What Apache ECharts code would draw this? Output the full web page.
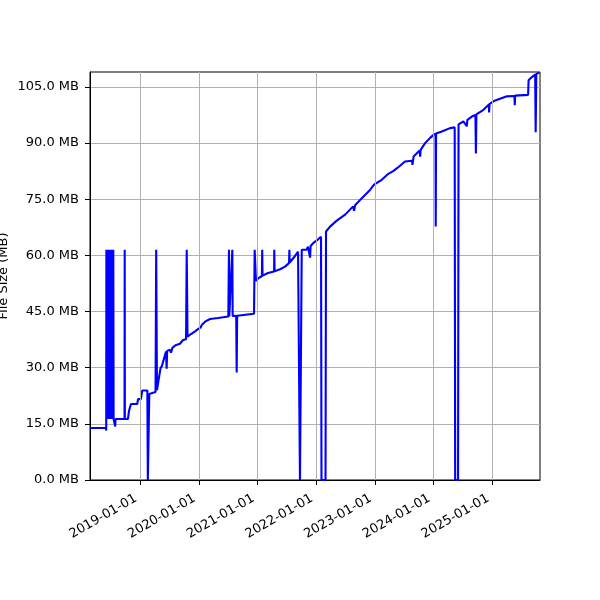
<!DOCTYPE html>
<html>
<head>
<meta charset="utf-8">
<script src="https://cdn.jsdelivr.net/npm/echarts@6/dist/echarts.min.js"></script>
<style>html,body{margin:0;padding:0;background:#fff}#c{width:600px;height:600px}</style>
</head>
<body>
<div id="c"></div>
<script>
const dates = [
'2018-02-22','2018-06-01','2018-06-03',
'2018-06-04','2018-06-06','2018-06-08','2018-06-10','2018-06-12','2018-06-15','2018-06-17','2018-06-20','2018-06-22','2018-06-25',
'2018-06-27','2018-06-30','2018-07-02','2018-07-05','2018-07-07','2018-07-10','2018-07-12','2018-07-15','2018-07-17','2018-07-19',
'2018-07-29','2018-07-31','2018-09-25','2018-09-26','2018-09-27','2018-10-16','2018-10-23','2018-11-04',
'2018-12-13','2018-12-18','2019-01-05','2019-01-13','2019-02-14','2019-02-17','2019-02-26','2019-04-06',
'2019-04-10','2019-04-15','2019-04-24','2019-05-07','2019-05-16','2019-05-29','2019-06-10','2019-06-14',
'2019-06-17','2019-07-05','2019-07-11','2019-07-20','2019-07-30','2019-08-08','2019-09-05','2019-09-24',
'2019-10-13','2019-10-17','2019-10-22','2019-11-13','2019-12-08','2019-12-26','2020-01-12','2020-01-20',
'2020-02-08','2020-03-10','2020-04-29','2020-07-02','2020-07-06','2020-07-08','2020-07-27','2020-07-29',
'2020-08-20','2020-08-23','2020-08-26','2020-12-09','2020-12-13','2020-12-21','2021-01-09','2021-01-27',
'2021-01-29','2021-01-31','2021-03-06','2021-04-13','2021-04-14','2021-04-16','2021-05-20','2021-06-20',
'2021-07-15','2021-07-17','2021-07-19','2021-08-15','2021-09-09','2021-09-18','2021-09-21','2021-09-28',
'2021-10-02','2021-11-01','2021-11-10','2021-11-23','2021-11-26','2021-12-18','2022-01-12','2022-01-30',
'2022-02-02','2022-02-27','2022-03-02','2022-03-27','2022-05-08','2022-06-29','2022-08-18','2022-08-24',
'2022-08-30','2022-10-11','2022-12-01','2022-12-26','2023-02-12','2023-03-25','2023-04-24','2023-05-18',
'2023-07-07','2023-08-20','2023-08-22','2023-08-29','2023-10-06','2023-10-09','2023-10-12','2023-11-09',
'2023-12-10','2023-12-31','2024-01-13','2024-01-14','2024-01-16','2024-02-21','2024-04-12','2024-05-11',
'2024-05-14','2024-06-01','2024-06-04','2024-07-04','2024-07-25','2024-07-29','2024-08-26','2024-09-17',
'2024-09-20','2024-09-23','2024-11-06','2024-12-10','2024-12-11','2024-12-14','2025-01-18','2025-04-01',
'2025-05-18','2025-05-20','2025-05-22','2025-08-11','2025-08-14','2025-08-30','2025-09-24','2025-09-27',
'2025-10-01','2025-10-19'
];
const sizes = [
13.9,13.9,13.2,
61.5,16.3,61.5,16.3,61.5,16.3,61.5,16.5,61.5,16.3,
61.5,16.3,61.5,16.3,61.5,16.3,61.5,16.3,61.5,16.3,
14.3,16.3,16.3,61.5,16.3,16.3,18.5,20.3,
20.3,21.6,21.6,23.9,23.9,0,23.0,23.5,
61.5,24.0,26.5,29.9,30.5,32.5,34.3,29.7,
34.5,34.8,34.0,35.3,35.0,36.0,36.4,37.4,
37.6,61.5,38.3,39.0,39.7,40.3,40.8,41.5,
42.3,43.0,43.3,43.7,61.5,43.7,61.5,43.8,
43.9,28.7,43.9,44.4,61.5,53.2,54.0,54.5,
61.5,54.6,55.3,55.7,61.5,55.8,56.3,57.0,
58.0,61.5,58.1,59.5,61.0,61.5,0,0,
61.5,61.5,62.3,59.4,62.5,63.5,64.3,65.0,
0,0,66.4,67.7,69.3,70.9,73.1,71.9,
73.4,75.3,77.5,78.9,80.2,81.8,82.5,83.3,
85.1,85.3,84.2,86.4,88.0,86.4,88.2,90.0,
91.4,92.2,92.5,67.7,92.6,93.1,94.0,94.2,
0,0,95.0,95.8,94.5,96.2,97.1,97.5,
87.2,97.7,98.9,100.3,98.2,100.5,101.4,102.5,
102.6,100.1,102.7,102.9,106.8,107.5,108.3,92.9,
108.5,108.8
];
const xTickLabels = ['2019-01-01','2020-01-01','2021-01-01','2022-01-01','2023-01-01','2024-01-01','2025-01-01'];
const yTicks = [0,15,30,45,60,75,90,105];
const xMin = '2018-02-22', xMax = '2025-10-24';
const yMin = 0, yMax = 109;

const P = s => { const a = s.split('-').map(Number); return Date.UTC(a[0], a[1] - 1, a[2]); };
const pad = n => (n < 10 ? '0' : '') + n;
const fmt = v => { const d = new Date(v); return d.getUTCFullYear() + '-' + pad(d.getUTCMonth() + 1) + '-' + pad(d.getUTCDate()); };
const FONT = 'DejaVu Sans';
const xTickVals = xTickLabels.map(P);
const chart = echarts.init(document.getElementById('c'), null, {renderer: 'canvas'});
chart.setOption({
  animation: false,
  grid: {left: 90, right: 60, top: 72, bottom: 120, containLabel: false, outerBoundsMode: 'none',
         show: true, borderColor: '#000', borderWidth: 1, backgroundColor: 'transparent'},
  xAxis: {
    type: 'value', min: P(xMin), max: P(xMax), scale: true,
    axisLine: {show: true, lineStyle: {color: '#000', width: 1}},
    axisTick: {show: true, length: 5, lineStyle: {color: '#000', width: 1}, customValues: xTickVals},
    axisLabel: {
      customValues: xTickVals, rotate: 30, margin: 15, padding: [0, 5, 0, 0], color: '#000',
      fontFamily: FONT, fontSize: 13, formatter: v => fmt(v)
    },
    splitLine: {show: false}
  },
  yAxis: {
    type: 'value', min: yMin, max: yMax, interval: 15,
    name: 'File Size (MB)', nameLocation: 'middle', nameRotate: 90, nameGap: 80, nameMoveOverlap: false,
    nameTextStyle: {fontFamily: FONT, fontSize: 13, color: '#000'},
    axisLine: {show: true, lineStyle: {color: '#000', width: 1}},
    axisTick: {show: true, length: 5, lineStyle: {color: '#000', width: 1}, customValues: yTicks},
    axisLabel: {customValues: yTicks, margin: 11, color: '#000', fontFamily: FONT, fontSize: 13, formatter: v => v.toFixed(1) + ' MB'},
    splitLine: {show: true, lineStyle: {color: '#b0b0b0', width: 1}}
  },
  series: [
    {
      type: 'line', data: [], silent: true, z: 1,
      markLine: {
        silent: true, symbol: 'none', label: {show: false}, animation: false,
        lineStyle: {color: '#b0b0b0', width: 1, type: 'solid'},
        data: xTickVals.map(v => ({xAxis: v}))
      }
    },
    {
      type: 'line', z: 3, showSymbol: false, symbol: 'none',
      lineStyle: {color: '#0000ff', width: 2.1},
      data: dates.map((d, i) => [P(d), sizes[i]])
    }
  ]
});
</script>
</body>
</html>
